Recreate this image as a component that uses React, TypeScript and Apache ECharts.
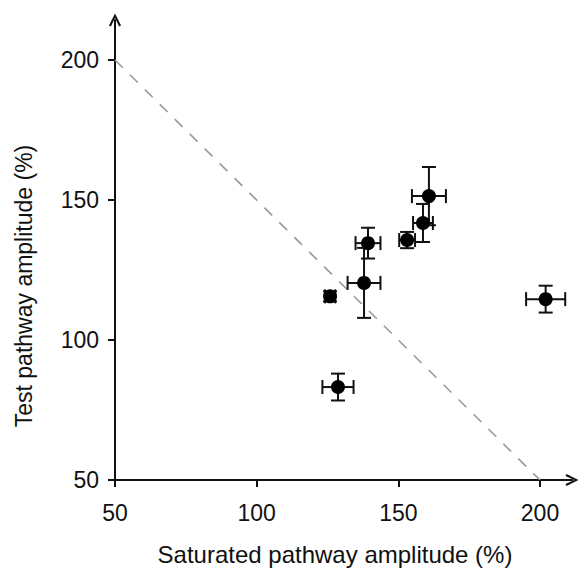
import React, { useEffect, useRef } from "react";
import * as echarts from "echarts";

const xValues = [125.9, 128.7, 137.9, 139.3, 153.1, 158.7, 160.8, 202.0];
const yValues = [115.6, 83.2, 120.4, 134.6, 135.7, 141.8, 151.4, 114.6];
const xErrors = [1.8, 5.5, 5.8, 4.4, 2.8, 3.5, 6.0, 6.9];
const yErrors = [1.8, 4.8, 12.5, 5.5, 2.9, 6.8, 10.4, 4.8];
const tickValues = [50, 100, 150, 200];
const refLine = [
  [50, 200],
  [200, 50],
];

const FONT = "'Liberation Sans', Arial, sans-serif";
const CHEVRON = "path://M0,10 L5,0 L10,10 L8.4,10.8 L5,3.6 L1.6,10.8 Z";

export default function App() {
  const ref = useRef<HTMLDivElement>(null);
  useEffect(() => {
    if (!ref.current) return;
    const chart = echarts.init(ref.current, null, { renderer: "svg" });
    const points = xValues.map((x, i) => [x, yValues[i], xErrors[i], yErrors[i]]);
    const axisCommon = {
      type: "value",
      min: 50,
      splitLine: { show: false },
      axisLine: {
        show: true,
        lineStyle: { color: "#111", width: 2 },
        symbol: ["none", CHEVRON],
        symbolSize: [13, 13],
        symbolOffset: [0, 0],
      },
      axisTick: {
        show: true,
        length: 7,
        lineStyle: { color: "#111", width: 2 },
        customValues: tickValues,
      },
      axisLabel: {
        color: "#111",
        fontSize: 23,
        fontFamily: FONT,
        customValues: tickValues,
      },
      nameLocation: "middle",
    };
    chart.setOption({
      animation: false,
      backgroundColor: "#fff",
      grid: { left: 115, right: 10, top: 20, bottom: 91, containLabel: false },
      xAxis: {
        ...axisCommon,
        max: 211.3,
        name: "Saturated pathway amplitude (%)",
        nameGap: 62,
        nameTextStyle: {
          color: "#111",
          fontSize: 24,
          fontFamily: FONT,
          padding: [0, 17, 0, 0],
        },
        axisLabel: { ...axisCommon.axisLabel, margin: 21 },
      },
      yAxis: {
        ...axisCommon,
        max: 214.3,
        name: "Test pathway amplitude (%)",
        nameGap: 80,
        nameTextStyle: {
          color: "#111",
          fontSize: 23,
          fontFamily: FONT,
          padding: [0, 72, 0, 0],
        },
        axisLabel: { ...axisCommon.axisLabel, margin: 16, padding: [7, 0, 0, 0] },
      },
      series: [
        {
          type: "line",
          data: refLine,
          symbol: "none",
          lineStyle: { color: "#999", width: 1.6, type: [11, 10] },
          z: 1,
        },
        {
          type: "custom",
          data: points,
          z: 3,
          renderItem: (params: any, api: any) => {
            const x = api.value(0);
            const y = api.value(1);
            const ex = api.value(2);
            const ey = api.value(3);
            const l = api.coord([x - ex, y]);
            const r = api.coord([x + ex, y]);
            const t = api.coord([x, y + ey]);
            const b = api.coord([x, y - ey]);
            const cap = 7;
            const style = { stroke: "#111", lineWidth: 2 };
            const mk = (x1: number, y1: number, x2: number, y2: number) => ({
              type: "line",
              shape: { x1, y1, x2, y2 },
              style,
            });
            return {
              type: "group",
              children: [
                mk(l[0], l[1], r[0], r[1]),
                mk(l[0], l[1] - cap, l[0], l[1] + cap),
                mk(r[0], r[1] - cap, r[0], r[1] + cap),
                mk(t[0], t[1], b[0], b[1]),
                mk(t[0] - cap, t[1], t[0] + cap, t[1]),
                mk(b[0] - cap, b[1], b[0] + cap, b[1]),
              ],
            };
          },
        },
        {
          type: "scatter",
          data: points.map((p) => [p[0], p[1]]),
          symbol: "circle",
          symbolSize: 14,
          itemStyle: { color: "#000", opacity: 1 },
          z: 4,
        },
      ],
    });
    return () => chart.dispose();
  }, []);
  return (
    <div
      ref={ref}
      style={{ position: "fixed", left: 0, top: 0, width: 582, height: 571 }}
    />
  );
}
